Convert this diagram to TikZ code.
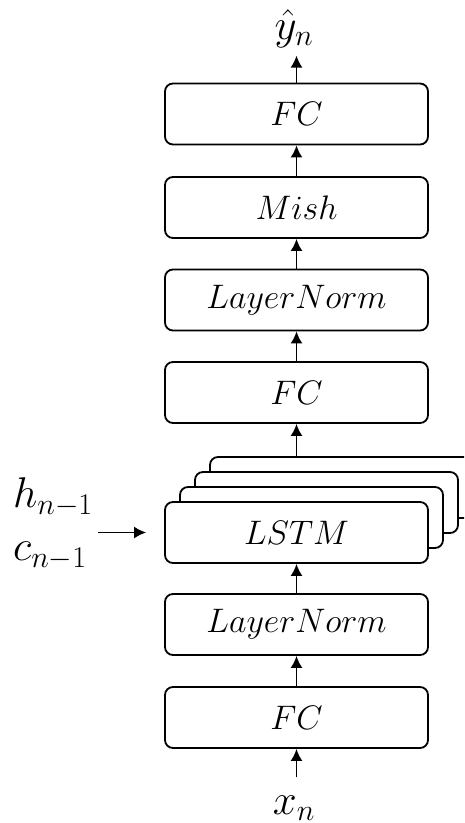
\documentclass[tikz,border=0pt]{standalone}
\usepackage{fix-cm}
\usetikzlibrary{arrows.meta}
\begin{document}
\begin{tikzpicture}[x=1pt,y=-1pt,
  blk/.style={draw, line width=1.8pt, rounded corners=8pt, minimum width=263pt,
    minimum height=61pt, fill=white, inner sep=0pt, font=\fontsize{34}{40}\selectfont},
  conn/.style={-{Latex[length=12pt,width=12pt]}, line width=1.8pt},
  lbl/.style={inner sep=0pt, font=\fontsize{43}{53}\selectfont}]
\useasboundingbox (0,0) rectangle (464,823);
\clip (0,0) rectangle (464,823);
% output stack
\node[blk] (fc3) at (296.5,114) {$FC$};
\node[blk] (mish) at (296.5,207.5) {$Mish$};
\node[blk] (ln2) at (296.5,300) {$LayerNorm$};
\node[blk] (fc2) at (296.5,392.5) {$FC$};
% LSTM stack (back to front)
\node[blk] (lstma) at (341.5,487.5) {};
\node[blk] (lstmb) at (326.5,502.5) {};
\node[blk] (lstmc) at (311.5,517.5) {};
\node[blk] (lstm) at (296.5,532.5) {$LSTM$};
% input stack
\node[blk] (ln1) at (296.5,624.5) {$LayerNorm$};
\node[blk] (fc1) at (296.5,717.5) {$FC$};
% labels
\node[lbl, anchor=base] (yhat) at (294,39) {$\hat{y}_n$};
\node[lbl, anchor=base] (xn) at (294,814) {$x_n$};
\node[lbl, anchor=west, align=left] (hc) at (13,524) {$h_{n-1}$\\$c_{n-1}$};
% connectors
\draw[conn, shorten <=18pt] (fc1.south |- xn.north) -- (fc1.south);
\draw[conn] (fc1) -- (ln1);
\draw[conn] (ln1) -- (lstm);
\draw[conn] (fc2.south |- lstma.north) -- (fc2.south);
\draw[conn] (fc2) -- (ln2);
\draw[conn] (ln2) -- (mish);
\draw[conn] (mish) -- (fc3);
\draw[conn, shorten >=8pt] (fc3.north) -- (fc3.north |- yhat.south);
\draw[conn, shorten <=5pt, shorten >=18pt] (hc.east |- lstm.west) -- (lstm.west);
\end{tikzpicture}
\end{document}
